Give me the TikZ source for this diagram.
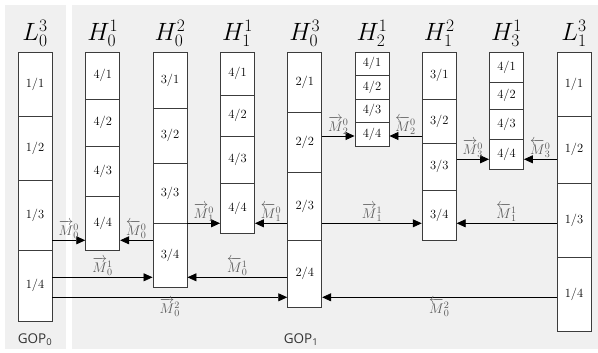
\RequirePackage{fix-cm}
\documentclass[tikz,border=0pt]{standalone}
\usepackage{fontspec}
\usepackage{amsmath}
\usepackage{tikz}
\usetikzlibrary{arrows.meta,positioning,calc}
\newfontfamily\gopfont{Open Sans}
\definecolor{panelbg}{HTML}{F0F0F0}
\definecolor{segline}{HTML}{3C3C3C}
\definecolor{labgray}{HTML}{5A5A5A}

\begin{document}
\begin{tikzpicture}[x=1pt, y=-1pt,
  seg/.style={draw=segline, fill=white, line width=0.9pt, minimum width=34pt, inner sep=0pt, font=\fontsize{12.5}{14}\selectfont},
  head/.style={font=\fontsize{25}{28}\selectfont},
  mv/.style={-{Triangle[length=9pt,width=8pt]}, line width=0.8pt},
  lab/.style={font=\fontsize{14}{16}\selectfont, text=labgray, inner sep=1pt},
  gop/.style={font=\gopfont\fontsize{13.5}{15}\selectfont, text=black!80}]

  \useasboundingbox (0,0) rectangle (598,353);
  % two GOP panels
  \fill[panelbg] (5,5) rectangle (65.7,349);
  \fill[panelbg] (72,5) rectangle (598,349);

  % column headers
  \node[head] (hl0)  at (35,33)    {$L_0^3$};
  \node[head] (hh01) at (102.7,33) {$H_0^1$};
  \node[head] (hh02) at (170,33)   {$H_0^2$};
  \node[head] (hh11) at (237.5,33) {$H_1^1$};
  \node[head] (hh03) at (304.7,33) {$H_0^3$};
  \node[head] (hh21) at (372,33)   {$H_2^1$};
  \node[head] (hh12) at (439.2,33) {$H_1^2$};
  \node[head] (hh31) at (506.5,33) {$H_3^1$};
  \node[head] (hl1)  at (574,33)   {$L_1^3$};

  % segments of each column (top/bottom/number)
  \foreach \t/\b/\n in {52/116/1,116/180/2,180/250.3/3,250.3/321/4}
    \node[seg, minimum height={(\b-\t)*1pt}] (l0-\n) at (35,{(\t+\b)/2}) {1/\n};
  \foreach \t/\b/\n in {52/99/1,99/146.3/2,146.3/196/3,196/250.3/4}
    \node[seg, minimum height={(\b-\t)*1pt}] (h01-\n) at (102.7,{(\t+\b)/2}) {4/\n};
  \foreach \t/\b/\n in {52/108.7/1,108.7/163/2,163/223.3/3,223.3/287.3/4}
    \node[seg, minimum height={(\b-\t)*1pt}] (h02-\n) at (170,{(\t+\b)/2}) {3/\n};
  \foreach \t/\b/\n in {52/95.7/1,95.7/136/2,136/183.3/3,183.3/233.3/4}
    \node[seg, minimum height={(\b-\t)*1pt}] (h11-\n) at (237.5,{(\t+\b)/2}) {4/\n};
  \foreach \t/\b/\n in {52/112.3/1,112.3/172.7/2,172.7/240.3/3,240.3/307/4}
    \node[seg, minimum height={(\b-\t)*1pt}] (h03-\n) at (304.7,{(\t+\b)/2}) {2/\n};
  \foreach \t/\b/\n in {52/75.7/1,75.7/99/2,99/122.7/3,122.7/146/4}
    \node[seg, minimum height={(\b-\t)*1pt}] (h21-\n) at (372,{(\t+\b)/2}) {4/\n};
  \foreach \t/\b/\n in {52/99/1,99/143/2,143/190/3,190/240/4}
    \node[seg, minimum height={(\b-\t)*1pt}] (h12-\n) at (439.2,{(\t+\b)/2}) {3/\n};
  \foreach \t/\b/\n in {52/82/1,82/109/2,109/139.7/3,139.7/169.7/4}
    \node[seg, minimum height={(\b-\t)*1pt}] (h31-\n) at (506.5,{(\t+\b)/2}) {4/\n};
  \foreach \t/\b/\n in {52/116/1,116/183.3/2,183.3/257.3/3,257.3/331/4}
    \node[seg, minimum height={(\b-\t)*1pt}] (l1-\n) at (574,{(\t+\b)/2}) {1/\n};

  % rows of the motion arrows
  \coordinate (rA) at (0,136);
  \coordinate (rB) at (0,159.3);
  \coordinate (rC) at (0,223.3);
  \coordinate (rD) at (0,240.3);
  \coordinate (rE) at (0,277.3);
  \coordinate (rF) at (0,297.3);

  \draw[mv] (h03-2.east |- rA) -- node[lab, above] {$\overrightarrow{M}_2^0$} (h21-4.west |- rA);
  \draw[mv] (h12-2.west |- rA) -- node[lab, above] {$\overleftarrow{M}_2^0$} (h21-4.east |- rA);
  \draw[mv] (h12-3.east |- rB) -- node[lab, above] {$\overrightarrow{M}_3^0$} (h31-4.west |- rB);
  \draw[mv] (l1-2.west |- rB) -- node[lab, above] {$\overleftarrow{M}_3^0$} (h31-4.east |- rB);
  \draw[mv] (h02-3.east |- rC) -- node[lab, above] {$\overrightarrow{M}_1^0$} (h11-4.west |- rC);
  \draw[mv] (h03-3.west |- rC) -- node[lab, above] {$\overleftarrow{M}_1^0$} (h11-4.east |- rC);
  \draw[mv] (h03-3.east |- rC) -- node[lab, above] {$\overrightarrow{M}_1^1$} (h12-4.west |- rC);
  \draw[mv] (l1-3.west |- rC) -- node[lab, above] {$\overleftarrow{M}_1^1$} (h12-4.east |- rC);
  \draw[mv] (l0-3.east |- rD) -- node[lab, above] {$\overrightarrow{M}_0^0$} (h01-4.west |- rD);
  \draw[mv] (h02-4.west |- rD) -- node[lab, above] {$\overleftarrow{M}_0^0$} (h01-4.east |- rD);
  \draw[mv] (l0-4.east |- rE) -- node[lab, above] {$\overrightarrow{M}_0^1$} (h02-4.west |- rE);
  \draw[mv] (h03-4.west |- rE) -- node[lab, above] {$\overleftarrow{M}_0^1$} (h02-4.east |- rE);
  \draw[mv] (l0-4.east |- rF) -- node[lab, below] {$\overrightarrow{M}_0^2$} (h03-4.west |- rF);
  \draw[mv] (l1-4.west |- rF) -- node[lab, below] {$\overleftarrow{M}_0^2$} (h03-4.east |- rF);

  % GOP captions
  \node[gop] (gop0) at (35,340)  {GOP\textsubscript{0}};
  \node[gop] (gop1) at (301,340) {GOP\textsubscript{1}};
\end{tikzpicture}
\end{document}
